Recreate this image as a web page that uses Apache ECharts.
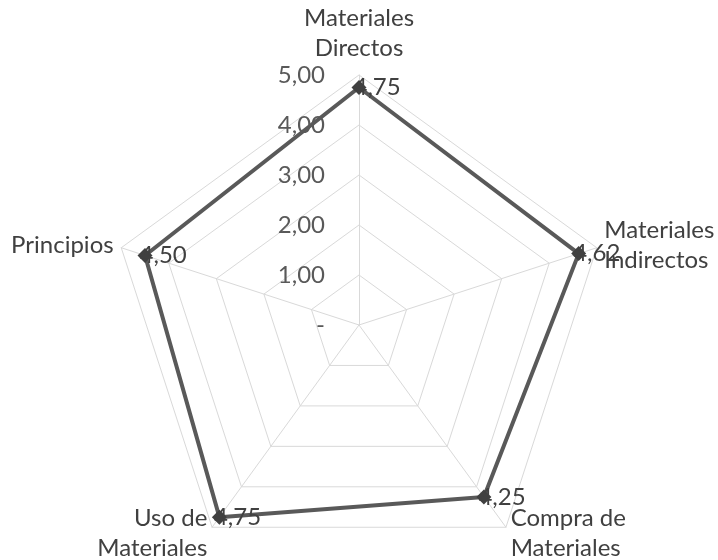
<!DOCTYPE html>
<html><head><meta charset="utf-8">
<script src="https://cdn.jsdelivr.net/npm/echarts@6/dist/echarts.min.js"></script>
<style>html,body{margin:0;padding:0;background:#fff}#c{width:718px;height:560px}</style>
</head><body><div id="c"></div>
<script>
// Indicators in ECharts order (counter-clockwise from top)
const categories = ['Materiales\nDirectos', 'Principios', 'Uso de\nMateriales', 'Compra de\nMateriales', 'Materiales\nIndirectos'];
const values = [4.75, 4.50, 4.75, 4.25, 4.62];
const axisMax = 5;
const tickLabels = ['-', '1,00', '2,00', '3,00', '4,00', '5,00'];

const FONT = 'Lato';
const chart = echarts.init(document.getElementById('c'));
chart.setOption({
  animation: false,
  backgroundColor: '#fff',
  radar: {
    center: [359, 325],
    radius: 250,
    startAngle: 90,
    splitNumber: 5,
    shape: 'polygon',
    indicator: categories.map((n, i) => ({
      name: n, min: 0, max: axisMax,
      axisLabel: i === 0 ? { show: true } : { show: false }
    })),
    axisName: { color: '#404040', fontSize: 24, fontFamily: FONT, lineHeight: 30 },
    nameGap: 8,
    splitLine: { lineStyle: { color: '#d9d9d9', width: 1 } },
    splitArea: { show: false },
    axisLine: { lineStyle: { color: '#d9d9d9', width: 1 } },
    axisTick: { show: false },
    axisLabel: {
      show: false, color: '#595959', fontSize: 24, fontFamily: FONT, margin: 34,
      formatter: v => tickLabels[Math.round(v)]
    }
  },
  series: [{
    type: 'radar',
    symbol: 'diamond',
    symbolSize: 15,
    itemStyle: { color: '#404040' },
    lineStyle: { color: '#595959', width: 4 },
    label: {
      show: true, position: 'right', distance: -13,
      color: '#404040', fontSize: 24, fontFamily: FONT,
      formatter: p => Number(p.value).toFixed(2).replace('.', ',')
    },
    data: [{ value: values }]
  }]
});
</script></body></html>
